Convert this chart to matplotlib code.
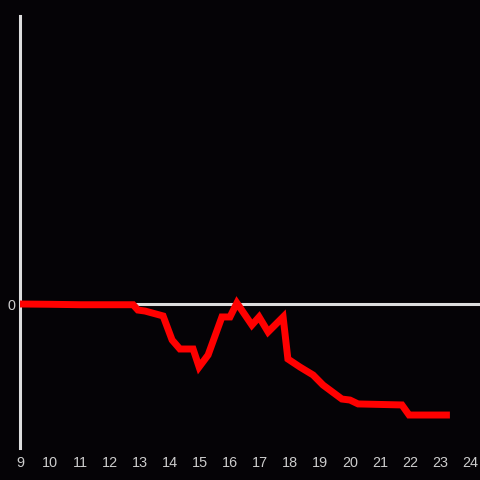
import matplotlib
matplotlib.use("Agg")
import matplotlib.pyplot as plt

hours = [9.0, 10.0, 11.0, 12.0, 12.77, 12.93, 13.17, 13.77, 14.07, 14.33, 14.77, 14.97,
         15.27, 15.73, 16.0, 16.23, 16.73, 16.97, 17.27, 17.77, 17.93, 18.33, 18.77,
         19.1, 19.73, 20.0, 20.27, 21.73, 21.97, 23.33]
values = [0.0, -0.002, -0.005, -0.005, -0.005, -0.042, -0.049, -0.083, -0.25, -0.3125,
          -0.3125, -0.4375, -0.354, -0.09, -0.09, 0.007, -0.146, -0.09, -0.194, -0.09,
          -0.382, -0.4375, -0.493, -0.5625, -0.66, -0.667, -0.694, -0.701, -0.771, -0.771]
xticks = list(range(9, 25))
yticks = [0]

bg = "#050306"
fig = plt.figure(figsize=(4.8, 4.8), dpi=100, facecolor=bg)
ax = fig.add_axes([20/480, 32/480, 460/480, 432/480], facecolor=bg)

ax.axhline(0, color="#dddddd", lw=2.2, zorder=1)
ax.plot(hours, values, color="#ff0000", lw=5, solid_joinstyle="miter",
        solid_capstyle="butt", zorder=3)

ax.set_xlim(9, 9 + 460/30)
ax.set_ylim(-1, 2)
ax.set_xticks(xticks)
ax.set_xticklabels([str(t) for t in xticks])
ax.set_yticks(yticks)
ax.set_yticklabels(["0"])
ax.tick_params(axis="both", length=0, colors="#cccccc", labelsize=10.4)
ax.tick_params(axis="x", pad=6)
ax.tick_params(axis="y", pad=3)
for lab in ax.get_xticklabels() + ax.get_yticklabels():
    lab.set_fontfamily("Liberation Sans")

for s in ["top", "right", "bottom"]:
    ax.spines[s].set_visible(False)
ax.spines["left"].set_color("#dddddd")
ax.spines["left"].set_linewidth(2.2)

fig.savefig("out.png", dpi=100, facecolor=bg)
